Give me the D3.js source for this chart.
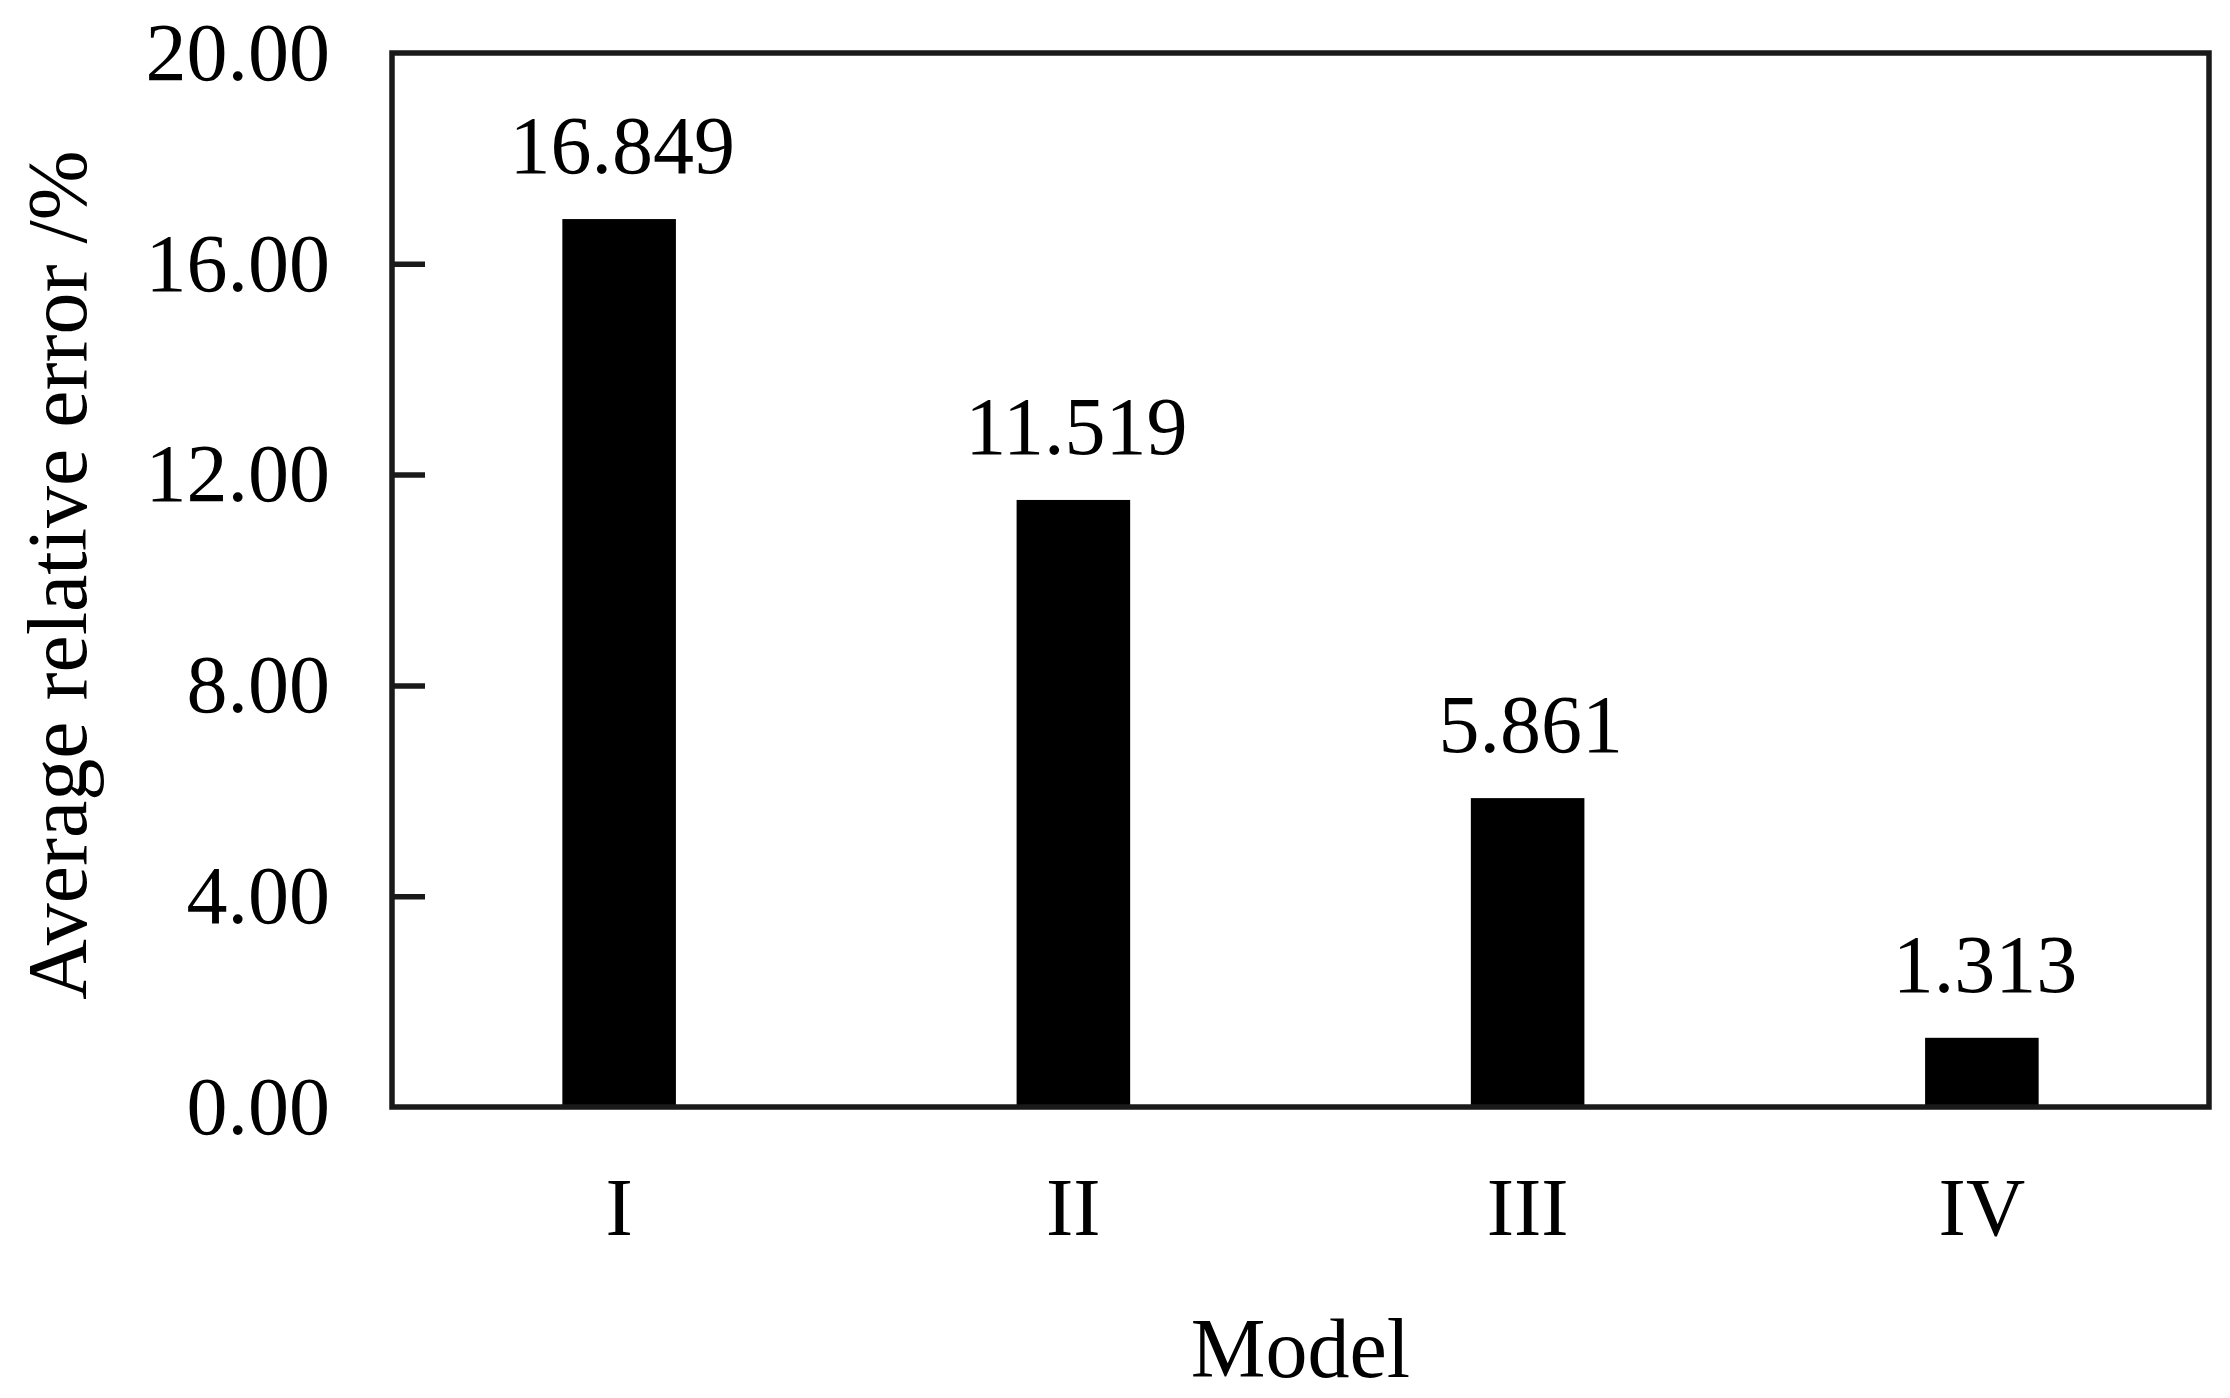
<!DOCTYPE html>
<html>
<head>
<meta charset="utf-8">
<script src="https://cdn.jsdelivr.net/npm/d3@7"></script>
<style>
  html, body { margin: 0; padding: 0; background: #fff; }
  svg text { font-family: "Liberation Serif", "Times New Roman", serif; fill: #000; }
</style>
</head>
<body>
<svg id="chart" width="2230" height="1398"></svg>
<script>
const categories = ["I", "II", "III", "IV"];
const values = [16.849, 11.519, 5.861, 1.313];
const valueLabels = ["16.849", "11.519", "5.861", "1.313"];
const yTicks = [0, 4, 8, 12, 16, 20];
const yTickLabels = ["0.00", "4.00", "8.00", "12.00", "16.00", "20.00"];
const xTitle = "Model";
const yTitle = "Average relative error /%";

const W = 2230, H = 1398;
const m = { left: 392, right: 2209, top: 53, bottom: 1107 };
const svg = d3.select("#chart");

const x = d3.scaleBand().domain(categories).range([m.left, m.right])
  .paddingInner(0.75).paddingOuter(0.375);
const y = d3.scaleLinear().domain([0, 20]).range([m.bottom, m.top]);

// bars
svg.append("g").selectAll("rect").data(values).join("rect")
  .attr("x", (d, i) => x(categories[i]))
  .attr("width", x.bandwidth())
  .attr("y", d => y(d))
  .attr("height", d => y(0) - y(d))
  .attr("fill", "#000");

// value labels
svg.append("g").selectAll("text").data(values).join("text")
  .attr("x", (d, i) => x(categories[i]) + x.bandwidth() / 2 + 3)
  .attr("y", d => y(d) - 46)
  .attr("text-anchor", "middle")
  .attr("font-size", 82)
  .text((d, i) => valueLabels[i]);

// y axis (ticks inward)
const yAxis = d3.axisLeft(y).tickValues(yTicks.slice(1, 5))
  .tickFormat((d) => yTickLabels[yTicks.indexOf(d)])
  .tickSizeInner(-33).tickSizeOuter(0).tickPadding(62);
const gy = svg.append("g").attr("transform", `translate(${m.left},0)`).call(yAxis);
gy.select(".domain").remove();
gy.selectAll(".tick line").attr("stroke", "#1a1a1a").attr("stroke-width", 5.5);
gy.selectAll(".tick text").attr("font-size", 82).attr("font-family", "Liberation Serif, serif").attr("fill", "#000");

// end labels 0.00 and 20.00 (no tick marks there) via the same axis generator
const yAxisEnds = d3.axisLeft(y).tickValues([yTicks[0], yTicks[5]])
  .tickFormat((d) => yTickLabels[yTicks.indexOf(d)])
  .tickSize(0).tickPadding(62);
const gy2 = svg.append("g").attr("transform", `translate(${m.left},0)`).call(yAxisEnds);
gy2.select(".domain").remove();
gy2.selectAll(".tick text").attr("font-size", 82).attr("font-family", "Liberation Serif, serif").attr("fill", "#000");

// x axis labels
const xAxis = d3.axisBottom(x).tickSize(0).tickPadding(128);
const gx = svg.append("g").attr("transform", `translate(0,${m.bottom})`).call(xAxis);
gx.select(".domain").remove();
gx.selectAll(".tick text").attr("font-size", 82).attr("font-family", "Liberation Serif, serif").attr("fill", "#000").attr("dy", 0);

// frame
svg.append("rect")
  .attr("x", m.left).attr("y", y(20))
  .attr("width", m.right - m.left).attr("height", y(0) - y(20))
  .attr("fill", "none").attr("stroke", "#1a1a1a").attr("stroke-width", 5.5);

// axis titles
svg.append("text")
  .attr("x", (m.left + m.right) / 2).attr("y", 1377)
  .attr("text-anchor", "middle").attr("font-size", 84)
  .text(xTitle);

svg.append("text")
  .attr("transform", `translate(86,${(m.top + m.bottom) / 2 - 5}) rotate(-90)`)
  .attr("text-anchor", "middle").attr("font-size", 84)
  .text(yTitle);
</script>
</body>
</html>
